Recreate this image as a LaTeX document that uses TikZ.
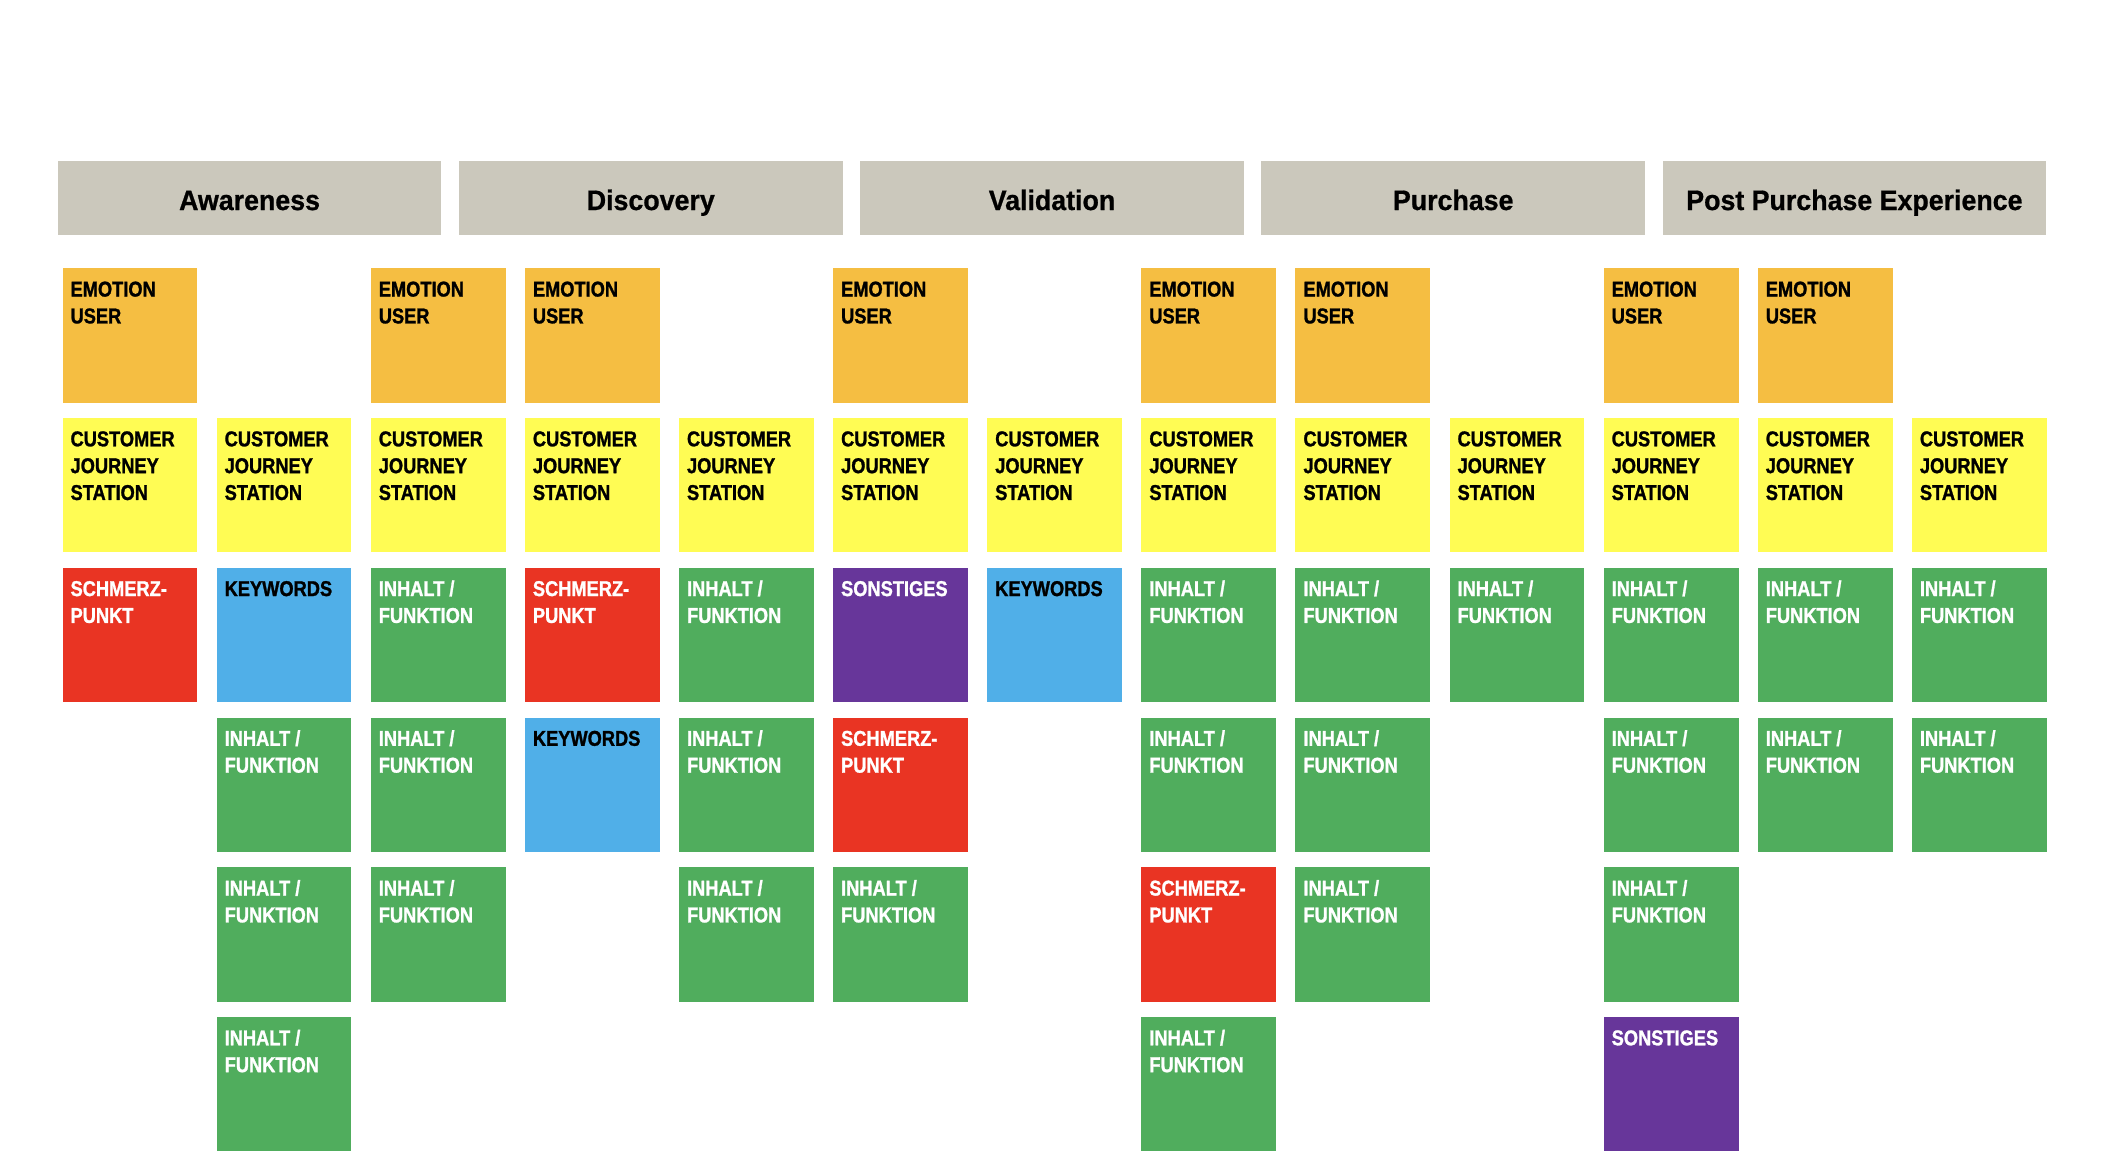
\documentclass[tikz,border=0pt]{standalone}
\usepackage{fontspec}
\newfontfamily\cardfont[FakeStretch=0.85,FakeBold=1.2]{Liberation Sans}
\newfontfamily\headfont[FakeStretch=0.95,FakeBold=0.8]{Liberation Sans}
\definecolor{cHead}{HTML}{CBC8BC}
\definecolor{cEmo}{HTML}{F5BE42}
\definecolor{cCjs}{HTML}{FFFC54}
\definecolor{cPain}{HTML}{E93423}
\definecolor{cKey}{HTML}{50AFE8}
\definecolor{cInh}{HTML}{50AD5D}
\definecolor{cSon}{HTML}{67369A}
\tikzset{
  card/.style={anchor=north west, inner xsep=6pt, inner ysep=0pt, outer sep=0pt},
  head/.style={anchor=north west, fill=cHead, minimum width=286pt, minimum height=55.5pt,
    inner sep=0pt, outer sep=0pt, text height=17.5pt, text depth=0pt,
    font=\headfont\bfseries\fontsize{21}{24}\selectfont}
}
\newcommand\cardtext[1]{\parbox[c][100pt][t]{88.5pt}{\raggedright\cardfont\bfseries\fontsize{16}{20}\selectfont\rule{0pt}{21pt}#1}}
\newcommand\card[5]{\node[card, fill=#3, text=#4] (c#1r#2) at ({46.6+114.85*#1},{200+111.6*#2}) {\cardtext{#5}};}
\newcommand\mkEmo[2]{\card{#1}{#2}{cEmo}{black}{EMOTION\\USER}}
\newcommand\mkCjs[2]{\card{#1}{#2}{cCjs}{black}{CUSTOMER\\JOURNEY\\STATION}}
\newcommand\mkPain[2]{\card{#1}{#2}{cPain}{white}{SCHMERZ-\\PUNKT}}
\newcommand\mkKey[2]{\card{#1}{#2}{cKey}{black}{KEYWORDS}}
\newcommand\mkInh[2]{\card{#1}{#2}{cInh}{white}{INHALT /\\FUNKTION}}
\newcommand\mkSon[2]{\card{#1}{#2}{cSon}{white}{SONSTIGES}}
\begin{document}
\begin{tikzpicture}[x=1pt,y=-1pt]
\useasboundingbox (0,0) rectangle (1568,876);
% headers
\node[head] (h0) at (43,120) {Awareness};
\node[head] (h1) at (342,120) {Discovery};
\node[head] (h2) at (641,120) {Validation};
\node[head] (h3) at (940,120) {Purchase};
\node[head] (h4) at (1239,120) {Post Purchase Experience};
% col 0
\mkEmo{0}{0} \mkCjs{0}{1} \mkPain{0}{2}
% col 1
\mkCjs{1}{1} \mkKey{1}{2} \mkInh{1}{3} \mkInh{1}{4} \mkInh{1}{5}
% col 2
\mkEmo{2}{0} \mkCjs{2}{1} \mkInh{2}{2} \mkInh{2}{3} \mkInh{2}{4}
% col 3
\mkEmo{3}{0} \mkCjs{3}{1} \mkPain{3}{2} \mkKey{3}{3}
% col 4
\mkCjs{4}{1} \mkInh{4}{2} \mkInh{4}{3} \mkInh{4}{4}
% col 5
\mkEmo{5}{0} \mkCjs{5}{1} \mkSon{5}{2} \mkPain{5}{3} \mkInh{5}{4}
% col 6
\mkCjs{6}{1} \mkKey{6}{2}
% col 7
\mkEmo{7}{0} \mkCjs{7}{1} \mkInh{7}{2} \mkInh{7}{3} \mkPain{7}{4} \mkInh{7}{5}
% col 8
\mkEmo{8}{0} \mkCjs{8}{1} \mkInh{8}{2} \mkInh{8}{3} \mkInh{8}{4}
% col 9
\mkCjs{9}{1} \mkInh{9}{2}
% col 10
\mkEmo{10}{0} \mkCjs{10}{1} \mkInh{10}{2} \mkInh{10}{3} \mkInh{10}{4} \mkSon{10}{5}
% col 11
\mkEmo{11}{0} \mkCjs{11}{1} \mkInh{11}{2} \mkInh{11}{3}
% col 12
\mkCjs{12}{1} \mkInh{12}{2} \mkInh{12}{3}
\end{tikzpicture}
\end{document}
